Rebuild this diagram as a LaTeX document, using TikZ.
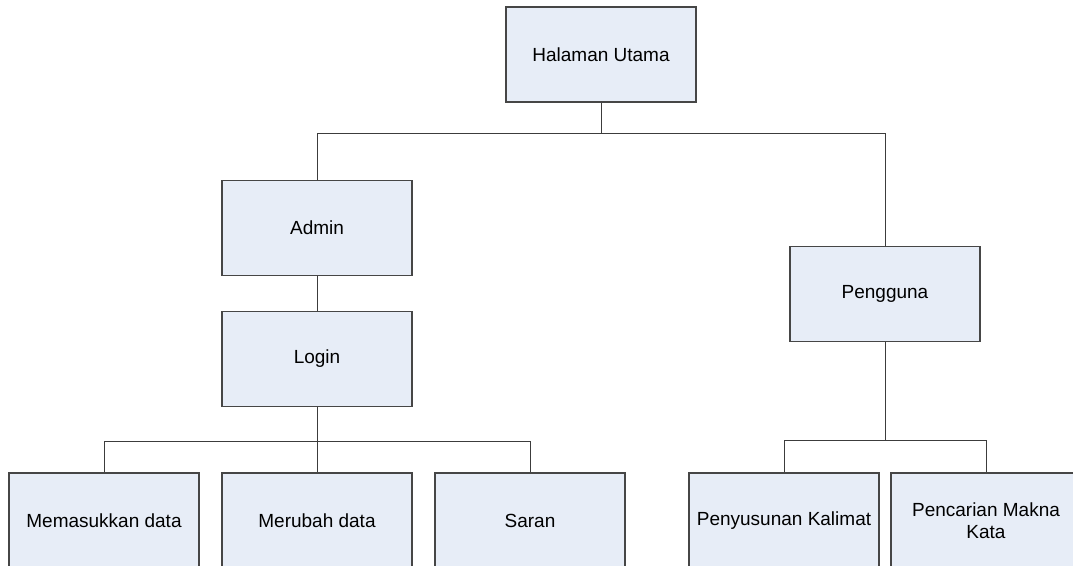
\documentclass[tikz,border=0pt]{standalone}
\usepackage{fontspec}
\setmainfont{Liberation Sans}
\definecolor{boxfill}{RGB}{231,237,247}
\definecolor{boxline}{RGB}{70,70,70}
\definecolor{linkcol}{RGB}{60,60,60}
\begin{document}
\begin{tikzpicture}[x=1pt,y=-1pt,
  box/.style={draw=boxline, fill=boxfill, line width=1.1pt,
    minimum width=190pt, minimum height=95pt, inner sep=0pt,
    align=center, font=\fontsize{19}{22}\selectfont},
  link/.style={draw=linkcol, line width=1pt}]
\useasboundingbox (0,0) rectangle (1073,565);

% menu boxes
\node[box] (home)    at (601,54.5)  {Halaman Utama};
\node[box] (admin)   at (317,228)   {Admin};
\node[box] (login)   at (317,359)   {Login};
\node[box] (user)    at (885,294)   {Pengguna};
\node[box] (input)   at (104,520.5) {Memasukkan data};
\node[box] (edit)    at (317,520.5) {Merubah data};
\node[box] (saran)   at (530,520.5) {Saran};
\node[box] (kalimat) at (784,520.5) {Penyusunan Kalimat};
\node[box] (makna)   at (986,520.5) {Pencarian Makna\\Kata};

% bus junctions
\coordinate (b1) at (601,133);
\coordinate (b2) at (317,441);
\coordinate (b3) at (885,440);

% top level
\draw[link] (home.south) -- (b1);
\draw[link] (b1) -| (admin.north);
\draw[link] (b1) -| (user.north);

% admin branch
\draw[link] (admin.south) -- (login.north);
\draw[link] (login.south) -- (b2);
\draw[link] (b2) -| (input.north);
\draw[link] (b2) -- (edit.north);
\draw[link] (b2) -| (saran.north);

% user branch
\draw[link] (user.south) -- (b3);
\draw[link] (b3) -| (kalimat.north);
\draw[link] (b3) -| (makna.north);
\end{tikzpicture}
\end{document}
